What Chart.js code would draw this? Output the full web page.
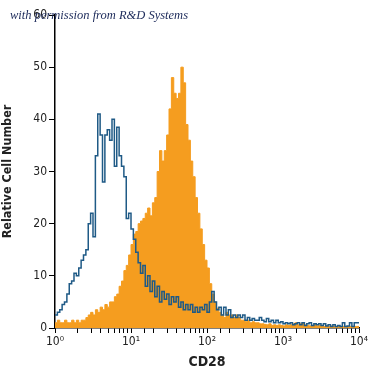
<!DOCTYPE html>
<html>
<head>
<meta charset="utf-8">
<script src="https://cdn.jsdelivr.net/npm/chart.js@4/dist/chart.umd.min.js"></script>
<style>
  html, body { margin: 0; padding: 0; background: #fff; }
  #wrap { position: relative; width: 375px; height: 375px; }
  #note {
    position: absolute; left: 10px; top: 8px;
    font: italic 12.5px "Liberation Serif", "DejaVu Serif", serif;
    color: #1c2a5a; white-space: nowrap; z-index: 2;
  }
</style>
</head>
<body>
<div id="wrap">
  <canvas id="grafico" width="375" height="375"></canvas>
  <div id="note">with permission from R&amp;D Systems</div>
</div>
<script>
// eje X: 4 decadas, 32 canales por decada
var decadas = 4;
var canales_por_decada = 32;
var etiquetas_x = ["10\u2070", "10\u00b9", "10\u00b2", "10\u00b3", "10\u2074"];
var ticks_y = [0, 10, 20, 30, 40, 50, 60];

// control de isotipo (linea azul)
var control = [
    2.5, 2.5, 3, 3.5, 4.5, 5, 6.5, 8.5, 9, 10.5, 10,
    11.5, 13, 14, 15, 20, 22, 17.5, 33, 41, 37,
    28, 37, 38, 36, 40, 31, 38.5, 33, 31, 29,
    21, 22, 19, 17, 14.5, 12.5, 10.5, 12, 8, 10,
    7, 9, 6, 8, 5, 7, 5.5, 6.5, 4.5, 6,
    5, 6, 4, 5, 3.5, 4.5, 3.5, 4.5, 3, 4,
    3, 4, 3.5, 4.5, 3, 5, 7, 5, 3.5, 4,
    2.5, 4, 2.5, 3.5, 2, 2.5, 2, 2.5, 2, 2.5,
    1.5, 2, 1.5, 1.8, 1.5, 1.5, 2, 1.5, 1.2, 1.8,
    1.2, 1.5, 1, 1.5, 1, 1.2, 0.8, 1, 0.8, 1,
    0.6, 0.8, 1, 0.6, 1, 0.5, 0.8, 1, 0.5, 0.8,
    0.6, 0.8, 0.5, 0.8, 0.4, 0.6, 0.3, 0.6, 0.3, 0.5,
    0.3, 1, 0.3, 0.4, 1, 0.3, 1
];

// CD28 (relleno naranja)
var cd28 = [
    1, 1, 1.5, 1, 1, 1.5, 1, 1, 1.5, 1, 1.5,
    1, 1.5, 1.5, 2, 2.5, 3, 2.5, 3.5, 3, 4,
    3.5, 4.5, 4, 5, 5, 6, 6.5, 8, 9, 11,
    12, 14, 16, 18, 18.5, 20, 20.5, 21, 22, 23,
    21.5, 24, 25, 30, 34, 32, 34, 37, 42, 48,
    45, 44, 45, 50, 47, 39, 36, 32, 29, 25,
    22, 19, 16, 13, 11.5, 8.5, 6.5, 5, 3.8, 3,
    2.5, 2, 3, 2.5, 2.5, 2, 2.5, 2, 1.5, 1.5,
    1.2, 1.5, 1, 1.2, 1, 1, 0.8, 0.8, 0.7, 0.6,
    0.8, 0.5, 0.6, 0.5, 0.6, 0.5, 0.4, 0.6, 0.5, 0.6,
    0.8, 1, 0.6, 0.8, 1, 0.6, 0.5, 0.4, 0.5, 0.6,
    0.4, 0.5, 0.4, 0.3, 0.4, 0.3, 0.4, 0.3, 0.3, 0.4,
    0.3, 0.3, 0.3, 0.3, 0.3, 0.3, 0.3
];

function puntos(valores) {
    var n = decadas * canales_por_decada;
    var pts = valores.map(function (v, i) {
        return { x: Math.pow(10, i / canales_por_decada), y: v };
    });
    pts.push({ x: Math.pow(10, n / canales_por_decada), y: valores[valores.length - 1] });
    return pts;
}

var fuente = '"DejaVu Sans Condensed", "Liberation Sans Narrow", "DejaVu Sans", sans-serif';

var ctx = document.getElementById("grafico");
var grafico = new Chart(ctx, {
    type: "line",
    data: {
        datasets: [
            {
                label: "Isotype",
                data: puntos(control),
                borderColor: "#1f5a86",
                borderWidth: 1.5,
                stepped: "after",
                pointRadius: 0,
                fill: false,
                order: 0,
            },
            {
                label: "CD28",
                data: puntos(cd28),
                borderColor: "#f59d1f",
                backgroundColor: "#f59d1f",
                borderWidth: 1,
                stepped: "after",
                pointRadius: 0,
                fill: "origin",
                order: 1,
            },
        ],
    },
    options: {
        responsive: false,
        animation: false,
        layout: { padding: { top: 15, right: 16, left: 0, bottom: 0 } },
        plugins: {
            legend: { display: false },
            tooltip: { enabled: false },
        },
        scales: {
            x: {
                type: "logarithmic",
                min: 1,
                max: 10000,
                border: { display: true, color: "#000", width: 1.5 },
                grid: { display: true, drawOnChartArea: false, drawTicks: true, tickLength: 5, color: "#000" },
                ticks: {
                    autoSkip: false,
                    maxRotation: 0,
                    color: "#222",
                    font: { family: fuente, size: 12 },
                    padding: 2,
                    callback: function (value) {
                        var e = Math.log10(value);
                        if (Math.abs(e - Math.round(e)) < 1e-9) return etiquetas_x[Math.round(e)];
                        return "";
                    },
                },
                title: {
                    display: true,
                    text: "CD28",
                    color: "#222",
                    font: { family: fuente, size: 14, weight: "bold" },
                    padding: { top: 3 },
                },
                afterFit: function (scale) { scale.height = 47; },
            },
            y: {
                min: 0,
                max: 60,
                border: { display: true, color: "#000", width: 1.5 },
                grid: { display: true, drawOnChartArea: false, drawTicks: true, tickLength: 6, color: "#000" },
                afterBuildTicks: function (scale) {
                    scale.ticks = ticks_y.map(function (v) { return { value: v }; });
                },
                ticks: {
                    color: "#222",
                    font: { family: fuente, size: 12 },
                    padding: 2,
                },
                title: {
                    display: true,
                    text: "Relative Cell Number",
                    color: "#222",
                    font: { family: fuente, size: 12.5, weight: "bold" },
                    padding: { top: 0, bottom: 0 },
                },
                afterFit: function (scale) { scale.width = 55; },
            },
        },
    },
});
</script>
</body>
</html>
